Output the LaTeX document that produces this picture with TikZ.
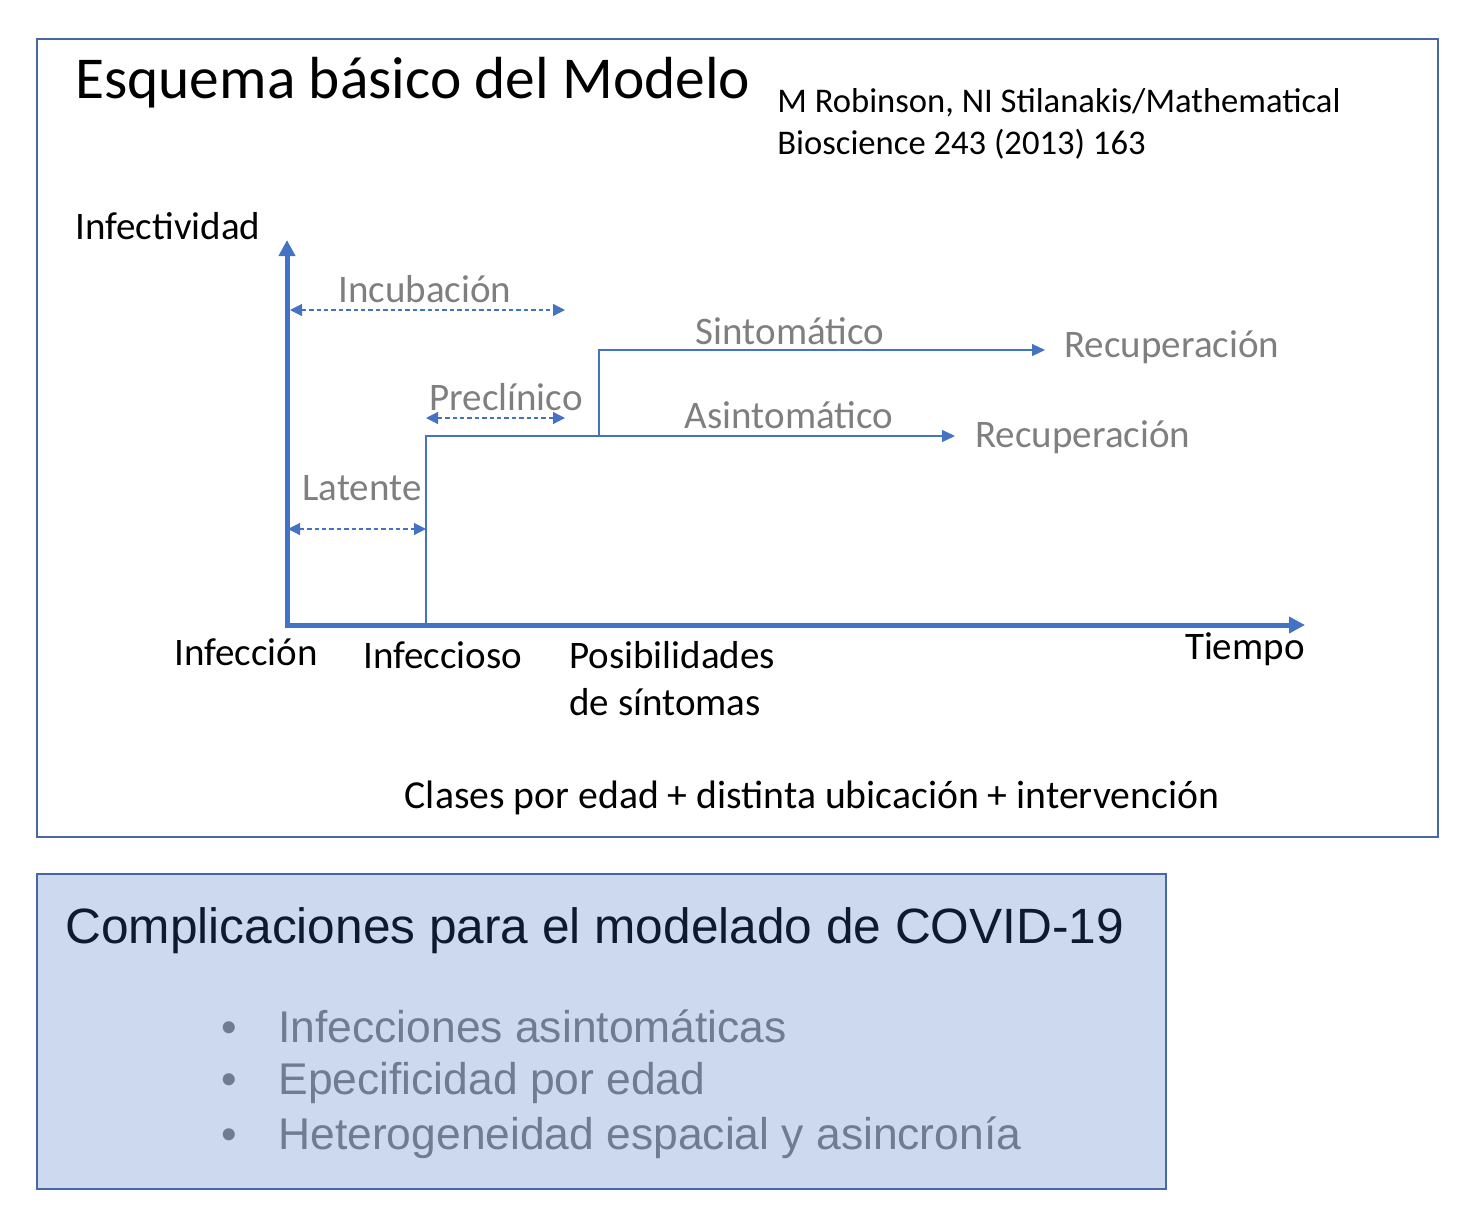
\documentclass[tikz,border=0pt]{standalone}
\usepackage{fontspec}
\setmainfont{Carlito}
\newfontfamily\arialfont{Liberation Sans}
\usetikzlibrary{arrows.meta}
\definecolor{frameblue}{RGB}{72,104,164}
\definecolor{axisblue}{RGB}{68,114,196}
\definecolor{lblgray}{RGB}{127,127,127}
\definecolor{panelblue}{RGB}{204,217,238}
\definecolor{panelnavy}{RGB}{14,26,48}
\definecolor{panelgray}{RGB}{112,124,146}

\begin{document}
\begin{tikzpicture}[x=0.5pt,y=-0.5pt,
		txt/.style={inner sep=0pt,font=\fontsize{19.5}{23.5}\selectfont},
		lbl/.style={txt,text=lblgray},
		axis/.style={draw=axisblue,line width=2.5pt,{Triangle[length=8pt,width=8pt]}-{Triangle[length=8pt,width=8pt]}},
		flow/.style={draw=axisblue,line width=0.6pt,-{Triangle[length=6.5pt,width=6pt]}},
		span/.style={draw=axisblue,line width=0.6pt,dash pattern=on 2.2pt off 1.5pt,{Triangle[length=6pt,width=6pt]}-{Triangle[length=6pt,width=6pt]}},
		panel/.style={inner sep=0pt,anchor=base west,font=\arialfont\fontsize{22.2}{26.6}\selectfont,text=panelgray}]
		\useasboundingbox (0,0) rectangle (1484,1222);
		% esquema
		\draw[frameblue,line width=1pt] (37,39) rectangle (1438,837);
		\node[txt,anchor=base west,font=\fontsize{29.7}{36}\selectfont] (title) at (75,98) {Esquema básico del Modelo};
		\node[txt,anchor=base west,font=\fontsize{17.3}{21}\selectfont] (cite1) at (777,112) {M Robinson, NI Stilanakis/Mathematical};
		\node[txt,anchor=base west,font=\fontsize{17.3}{21}\selectfont] (cite2) at (777,154) {Bioscience 243 (2013) 163};
		
		% ejes
		\coordinate (O) at (287,625);
		\coordinate (ytop) at (287,240);
		\coordinate (xend) at (1305,625);
		\draw[axis] (ytop) |- (xend);
		\node[txt,anchor=base west] (infect) at (75,239) {Infectividad};
		\node[txt,anchor=base west] (infeccion) at (174,665) {Infección};
		\node[txt,anchor=base west] (infeccioso) at (363,668) {Infeccioso};
		\node[txt,anchor=base west] (posib) at (569,668) {Posibilidades};
		\node[txt,anchor=base west] (posib2) at (569,715) {de síntomas};
		\node[txt,anchor=base east] (tiempo) at (1305,659) {Tiempo};
		
		% etapas
		\coordinate (ini) at (426,628);
		\coordinate (asEnd) at (955,436);
		\coordinate (br) at (599,437);
		\coordinate (symEnd) at (1045,350);
		\draw[flow] (ini) |- (asEnd);
		\draw[flow] (br) |- (symEnd);
		\node[lbl,anchor=base] (sint) at (790,344) {Sintomático};
		\node[lbl,anchor=base] (asint) at (789,428) {Asintomático};
		\node[lbl,anchor=base west] (rec1) at (1064,357) {Recuperación};
		\node[lbl,anchor=base west] (rec2) at (975,447) {Recuperación};
		
		% periodos
		\coordinate (incA) at (290,310);
		\coordinate (incB) at (565,310);
		\coordinate (preA) at (426,418);
		\coordinate (preB) at (565,418);
		\coordinate (latA) at (288,529);
		\coordinate (latB) at (426,529);
		\draw[span] (incA) -- (incB);
		\draw[span] (preA) -- (preB);
		\draw[span] (latA) -- (latB);
		\node[lbl,anchor=base] (incub) at (425,302) {Incubación};
		\node[lbl,anchor=base] (precl) at (506,410) {Preclínico};
		\node[lbl,anchor=base] (laten) at (362,500) {Latente};
		
		\node[txt,anchor=base,font=\fontsize{19.85}{24}\selectfont] (clases) at (812,808) {Clases por edad + distinta ubicación + intervención};
		
		%% complicaciones
		\draw[frameblue,fill=panelblue,line width=1pt] (37,874) rectangle (1166,1189);
		\node[inner sep=0pt,anchor=base west,font=\arialfont\fontsize{24.8}{29.8}\selectfont,text=panelnavy] (comp) at (65,943) {Complicaciones para el modelado de COVID-19};
		\foreach \y/\t [count=\i] in {1042/Infecciones asintomáticas,1094/Epecificidad por edad,1149/Heterogeneidad espacial y asincronía} {
			\node[panel,anchor=base] (dot\i) at (229,\y) {•};
			\node[panel] (item\i) at (278,\y) {\t};
		}
\end{tikzpicture}
\end{document}
